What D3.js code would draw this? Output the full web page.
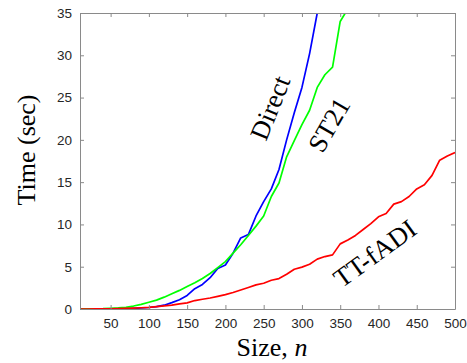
<!DOCTYPE html>
<html>
<head>
<meta charset="utf-8">
<script src="https://cdn.jsdelivr.net/npm/d3@7"></script>
<style>
  body { margin: 0; background: #fff; }
  svg { display: block; }
</style>
</head>
<body>
<div id="chart"></div>
<script>
// problem sizes n = 10, 20, ..., 500
const sizes = d3.range(10, 510, 10)

// timings (sec)
const directTimes = [0, 0, 0.01, 0.01, 0.02, 0.03, 0.05, 0.08, 0.12, 0.18,
	0.28, 0.45, 0.75, 1.1, 1.6, 2.4, 2.9, 3.7, 4.8, 5.2,
	6.6, 8.4, 8.8, 11.0, 12.7, 14.2, 16.5, 20.0, 23.2, 26.2,
	30.2, 35.0, 40.0]
const st21Times = [0, 0.01, 0.02, 0.04, 0.08, 0.13, 0.2, 0.35, 0.55, 0.8,
	1.05, 1.4, 1.8, 2.2, 2.65, 3.1, 3.6, 4.2, 4.9, 5.6,
	6.6, 7.6, 8.7, 9.8, 11.0, 13.3, 14.9, 18.0, 19.9, 21.8,
	23.5, 26.2, 27.7, 28.6, 34.0, 35.5, 37.0]
const ttfadiTimes = [0, 0, 0.01, 0.02, 0.03, 0.05, 0.07, 0.1, 0.15, 0.2,
	0.28, 0.36, 0.45, 0.6, 0.72, 1.0, 1.15, 1.3, 1.5, 1.7,
	1.95, 2.25, 2.55, 2.85, 3.05, 3.4, 3.6, 4.1, 4.7, 4.95,
	5.3, 5.9, 6.2, 6.4, 7.7, 8.15, 8.7, 9.4, 10.1, 10.9,
	11.3, 12.4, 12.7, 13.3, 14.2, 14.7, 15.8, 17.6, 18.1, 18.5]

const xTicks = d3.range(50, 550, 50)
const yTicks = d3.range(0, 40, 5)

const series = [
	{ name: 'Direct', color: '#0000ff', values: directTimes, label: { n: 258, t: 23.8, rot: -68 } },
	{ name: 'ST21', color: '#00ff00', values: st21Times, label: { n: 335, t: 21.8, rot: -60 } },
	{ name: 'TT-fADI', color: '#ff0000', values: ttfadiTimes, label: { n: 395, t: 6.6, rot: -36 } },
]

const W = 467, H = 363
const margin = { top: 13, right: 12, bottom: 54, left: 80 }

const svg = d3.select('#chart').append('svg').attr('width', W).attr('height', H)

const x = d3.scaleLinear().domain([10, 500]).range([margin.left, W - margin.right])
const y = d3.scaleLinear().domain([0, 35]).range([H - margin.bottom, margin.top])

const axisColor = '#8a8a8a'
const tickFont = '"Liberation Sans", Arial, sans-serif'
const serif = '"Liberation Serif", "Times New Roman", serif'

svg.append('defs').append('clipPath').attr('id', 'plotClip')
	.append('rect')
	.attr('x', x.range()[0]).attr('y', y.range()[1])
	.attr('width', x.range()[1] - x.range()[0])
	.attr('height', y.range()[0] - y.range()[1])

// lines
const line = d3.line()
	.x((d) => x(d[0]))
	.y((d) => y(d[1]))

const plot = svg.append('g').attr('clip-path', 'url(#plotClip)')
series.forEach((s) => {
	plot.append('path')
		.datum(s.values.map((v, i) => [sizes[i], v]))
		.attr('d', line)
		.attr('fill', 'none')
		.attr('stroke', s.color)
		.attr('stroke-width', 1.7)
		.attr('stroke-linejoin', 'round')
})

// axes, ticks inward on all four sides (box on)
const tickLen = 4
const bottomAxis = d3.axisBottom(x).tickValues(xTicks).tickSizeInner(-tickLen).tickSizeOuter(0).tickPadding(9)
const topAxis = d3.axisTop(x).tickValues(xTicks).tickSizeInner(-tickLen).tickSizeOuter(0).tickFormat('')
const leftAxis = d3.axisLeft(y).tickValues(yTicks).tickSizeInner(-tickLen).tickSizeOuter(0).tickPadding(8)
const rightAxis = d3.axisRight(y).tickValues(yTicks).tickSizeInner(-tickLen).tickSizeOuter(0).tickFormat('')

const gx = svg.append('g').attr('transform', `translate(0,${y.range()[0]})`).call(bottomAxis)
const gxt = svg.append('g').attr('transform', `translate(0,${y.range()[1]})`).call(topAxis)
const gy = svg.append('g').attr('transform', `translate(${x.range()[0]},0)`).call(leftAxis)
const gyr = svg.append('g').attr('transform', `translate(${x.range()[1]},0)`).call(rightAxis)

;[gx, gxt, gy, gyr].forEach((g) => {
	g.select('.domain').attr('stroke', axisColor).attr('stroke-width', 1)
	g.selectAll('.tick line').attr('stroke', axisColor)
	g.selectAll('.tick text')
		.attr('fill', '#262626')
		.style('font-family', tickFont)
		.style('font-size', '13.5px')
})

// axis titles
svg.append('text')
	.attr('x', 272)
	.attr('y', 356)
	.attr('text-anchor', 'middle')
	.style('font-family', serif)
	.style('font-size', '26px')
	.attr('fill', '#000')
	.call((t) => {
		t.append('tspan').text('Size, ')
		t.append('tspan').style('font-style', 'italic').text('n')
	})

svg.append('text')
	.attr('transform', 'translate(35,150) rotate(-90)')
	.attr('text-anchor', 'middle')
	.style('font-family', serif)
	.style('font-size', '26px')
	.attr('fill', '#000')
	.text('Time (sec)')

// in-plot series labels
series.forEach((s) => {
	svg.append('text')
		.attr('transform', `translate(${x(s.label.n)},${y(s.label.t)}) rotate(${s.label.rot})`)
		.attr('text-anchor', 'middle')
		.attr('dy', '0.35em')
		.style('font-family', serif)
		.style('font-size', '26.5px')
		.attr('fill', '#000')
		.text(s.name)
})
</script>
</body>
</html>
